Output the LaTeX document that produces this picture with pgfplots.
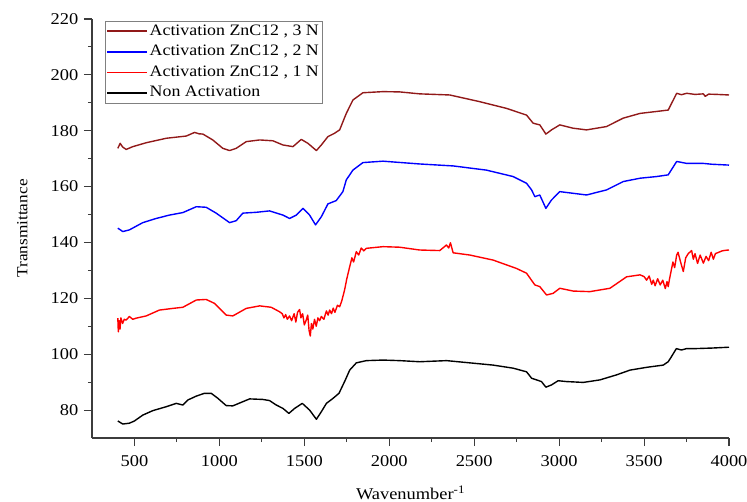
\documentclass[border=0pt]{standalone}
\usepackage{pgfplots}
\pgfplotsset{compat=1.18}
\usepackage{fontspec}
\setmainfont{Liberation Serif}[FakeStretch=1.12]
\definecolor{darkred}{RGB}{145,25,25}
\definecolor{axisgray}{RGB}{60,60,60}
\begin{document}
\fontsize{16.5}{20}\selectfont
\begin{tikzpicture}
\begin{axis}[
    name=ax,
    scale only axis,
    width=637bp, height=419bp,
    xmin=250, xmax=4000,
    ymin=70, ymax=220,
    xtick={500,1000,...,4000},
    ytick={80,100,...,220},
    minor x tick num=1,
    minor y tick num=1,
    axis x line*=bottom,
    axis y line*=left,
    axis line style={axisgray, line width=1.1pt},
    tick style={axisgray, line width=1.1pt},
    tick align=outside,
    major tick length=8bp,
    minor tick length=4bp,
    /pgf/number format/assume math mode=true,
    /pgf/number format/1000 sep={},
    ticklabel style={font=\fontsize{16.5}{20}\selectfont},
    xticklabel style={yshift=-4bp},
    xlabel={Wavenumber\textsuperscript{-1}},
    ylabel={Transmittance},
    xlabel style={font=\fontsize{16.5}{20}\selectfont, yshift=-8bp},
    ylabel style={font=\fontsize{15.5}{20}\selectfont, yshift=12bp},
    legend style={at={(0.02,0.995)}, anchor=north west, draw=gray,
        font=\fontsize{16}{19}\selectfont, row sep=3.5bp, inner sep=1.5bp},
    legend cell align=left,
    legend image code/.code={\draw[#1, line width=1.6pt] (0cm,0cm) -- (1.4cm,0cm);},
    every axis plot/.append style={line width=1.4pt, line join=round},
]

% Activation ZnCl2, 3 N
\addplot[darkred] coordinates {
(402,173.7) (416,175.5) (430,174.2) (451,173.3) (490,174.3) (569,175.7)
(687,177.3) (805,178.1) (854,179.4) (880,178.9) (903,178.8) (961,176.7)
(1020,173.7) (1060,172.9) (1099,173.7) (1158,176.1) (1237,176.7) (1315,176.4)
(1374,174.9) (1433,174.3) (1482,176.9) (1521,175.5) (1571,172.9) (1600,174.9)
(1639,177.9) (1678,179.1) (1708,180.3) (1747,186.2) (1786,191.0) (1845,193.6)
(1963,194.0) (2061,193.9) (2179,193.2) (2356,192.8) (2533,190.4) (2690,188.0)
(2808,185.6) (2847,182.7) (2886,182.1) (2922,178.8) (2955,180.3) (3004,182.1)
(3083,180.9) (3161,180.3) (3279,181.5) (3377,184.5) (3476,186.2) (3574,186.9)
(3642,187.4) (3692,193.4) (3720,192.9) (3751,193.4) (3800,193.0) (3849,193.2)
(3860,192.3) (3880,193.1) (3930,193.0) (4000,192.8)
};
\addlegendentry{Activation ZnC12 , 3 N}

% Activation ZnCl2, 2 N
\addplot[blue] coordinates {
(402,145.1) (415,144.6) (431,143.9) (470,144.5) (549,147.1) (628,148.6)
(706,149.8) (785,150.7) (864,152.8) (922,152.6) (981,150.5) (1060,147.1)
(1099,147.8) (1138,150.5) (1217,150.8) (1295,151.3) (1374,149.8) (1413,148.6)
(1453,149.8) (1492,152.2) (1531,149.8) (1566,146.3) (1600,149.2) (1639,153.8)
(1688,155.0) (1727,158.2) (1747,162.4) (1786,165.9) (1845,168.6) (1963,169.1)
(2179,168.1) (2376,167.4) (2572,165.9) (2729,163.6) (2808,161.2) (2838,158.8)
(2857,156.4) (2886,157.0) (2922,152.2) (2955,155.2) (3004,158.2) (3083,157.6)
(3161,157.0) (3279,158.8) (3377,161.8) (3476,163.0) (3574,163.6) (3642,164.2)
(3692,169.0) (3751,168.3) (3849,168.3) (3900,168.0) (4000,167.7)
};
\addlegendentry{Activation ZnC12 , 2 N}

% Activation ZnCl2, 1 N
\addplot[red] coordinates {
(402,112.9) (405,108.0) (410,112.0) (415,109.0) (420,113.0) (430,111.0)
(440,112.5) (451,112.2) (470,113.5) (490,112.5) (510,112.9) (569,113.7)
(647,115.8) (726,116.4) (785,116.8) (864,119.4) (922,119.6) (971,118.2)
(1040,114.0) (1079,113.7) (1158,116.4) (1237,117.3) (1305,116.8) (1354,115.2)
(1370,114.5) (1380,113.0) (1390,114.2) (1400,112.5) (1413,113.7) (1425,112.0)
(1440,114.5) (1450,111.5) (1460,115.0) (1472,116.0) (1480,113.0) (1490,114.5)
(1500,110.5) (1511,112.2) (1520,114.0) (1528,108.5) (1535,106.5) (1542,111.0)
(1550,109.0) (1560,112.5) (1570,110.0) (1580,113.0) (1590,112.0) (1600,113.5)
(1615,112.5) (1630,115.5) (1640,114.0) (1649,115.8) (1660,114.5) (1670,116.5)
(1680,115.0) (1695,117.5) (1708,117.0) (1720,119.0) (1737,123.0) (1750,127.0)
(1767,131.3) (1780,134.5) (1790,133.0) (1806,136.7) (1820,135.5) (1835,138.0)
(1850,137.0) (1865,137.9) (1963,138.5) (2061,138.3) (2179,137.3) (2297,137.1)
(2337,139.1) (2350,138.0) (2360,139.9) (2376,136.3) (2474,135.5) (2611,133.7)
(2749,130.7) (2808,129.0) (2857,124.8) (2886,124.2) (2926,121.2) (2965,121.8)
(3004,123.6) (3083,122.6) (3181,122.4) (3299,123.6) (3397,127.7) (3476,128.4)
(3500,127.8) (3515,126.5) (3530,128.0) (3545,125.0) (3554,126.5) (3565,124.5)
(3580,127.0) (3595,124.8) (3610,126.5) (3625,123.5) (3635,126.0) (3642,124.2)
(3650,127.0) (3660,130.0) (3670,133.0) (3680,131.0) (3692,135.5) (3700,136.5)
(3715,133.0) (3731,129.6) (3745,134.5) (3760,136.0) (3780,137.1) (3790,134.0)
(3800,136.0) (3815,132.5) (3830,135.5) (3849,132.6) (3865,135.0) (3880,133.5)
(3895,136.5) (3908,134.0) (3920,136.0) (3940,136.5) (3960,137.0) (3980,137.2)
(4000,137.3)
};
\addlegendentry{Activation ZnC12 , 1 N}

% Non Activation
\addplot[black] coordinates {
(402,76.1) (431,75.0) (470,75.3) (500,76.1) (549,78.2) (608,79.8) (687,81.2)
(746,82.4) (785,81.8) (814,83.6) (864,85.0) (912,86.0) (952,86.0) (991,84.2)
(1040,81.6) (1079,81.5) (1138,83.0) (1178,84.0) (1256,83.8) (1295,83.4)
(1335,81.8) (1374,80.6) (1409,78.8) (1443,80.6) (1488,82.4) (1531,80.0)
(1571,76.7) (1600,79.4) (1630,82.4) (1669,84.2) (1704,86.0) (1737,90.2)
(1767,94.3) (1806,96.9) (1865,97.7) (1963,97.9) (2061,97.7) (2179,97.3)
(2337,97.7) (2474,96.9) (2611,96.1) (2729,95.0) (2808,93.7) (2838,91.4)
(2867,90.8) (2896,90.2) (2922,88.2) (2955,89.0) (2994,90.5) (3044,90.2)
(3142,89.9) (3240,90.8) (3338,92.6) (3417,94.3) (3515,95.3) (3613,96.1)
(3642,97.3) (3660,99.0) (3690,102.0) (3720,101.5) (3750,102.0) (3800,102.0)
(3900,102.2) (4000,102.5)
};
\addlegendentry{Non Activation}

\end{axis}
\pgfresetboundingbox
\path ([xshift=-92bp,yshift=-64bp]ax.south west) rectangle ([xshift=18bp,yshift=19bp]ax.north east);
\end{tikzpicture}
\end{document}
